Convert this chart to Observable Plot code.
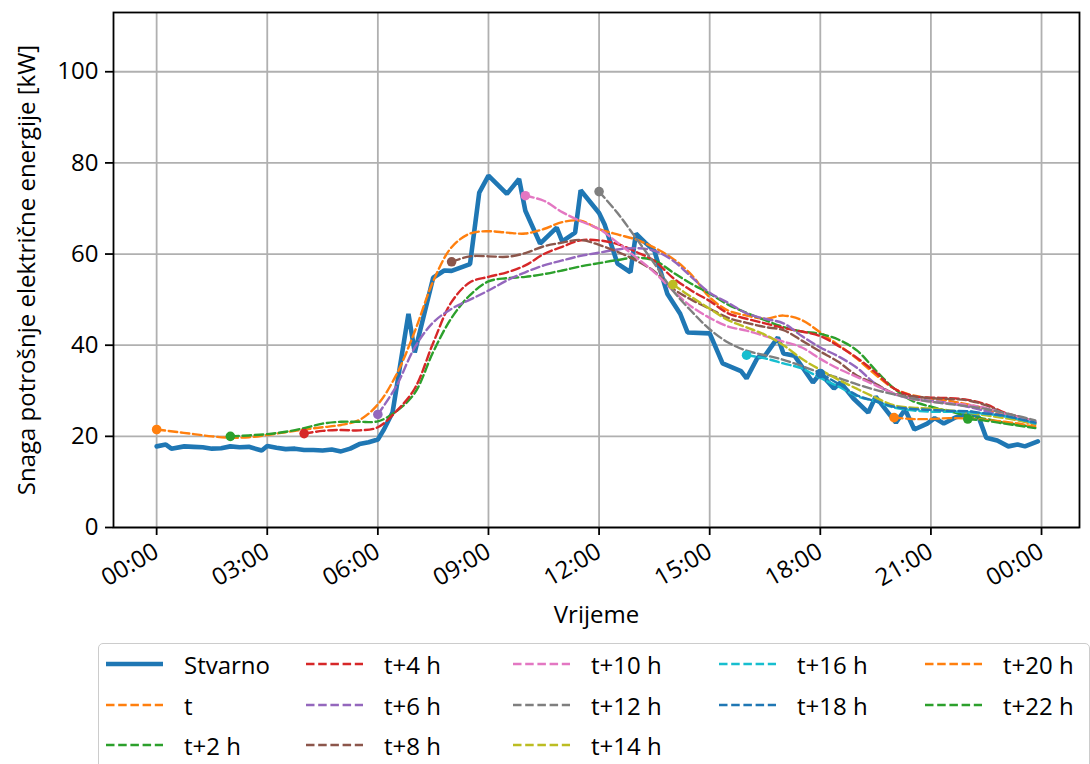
<!DOCTYPE html>
<html><head><meta charset="utf-8">
<script src="https://cdn.jsdelivr.net/npm/d3@7"></script>
<script src="https://cdn.jsdelivr.net/npm/@observablehq/plot@0.6"></script>
<style>
body{margin:0;background:#fff;font-family:"Open Sans",sans-serif;}
#wrap{position:relative;width:1090px;height:764px;overflow:hidden;background:#fff;}
#legend{position:absolute;left:98px;top:643px;width:992px;height:140px;border:1.6px solid #cccccc;border-radius:5px;box-sizing:border-box;}
.item{position:absolute;display:flex;align-items:center;height:30px;font-size:24px;color:#000;white-space:nowrap;}
.item svg{margin-right:21px;}
</style></head><body><div id="wrap"></div><script>
// ---- data ----
const xTicks = [0, 3, 6, 9, 12, 15, 18, 21, 24];
const yTicks = [0, 20, 40, 60, 80, 100];

const actualHours = [0,0.25,0.4,0.75,1,1.25,1.5,1.75,2,2.25,2.5,2.85,3,3.25,3.5,3.75,4,4.25,4.5,4.75,5,5.25,5.5,5.75,6,6.15,6.4,6.83,7,7.5,7.8,8,8.5,8.75,9,9.5,9.83,10,10.4,10.85,11,11.35,11.5,12,12.15,12.5,12.85,13,13.25,13.5,13.85,14.2,14.4,15,15.35,15.85,16,16.3,16.5,16.85,17,17.3,17.8,18,18.37,18.55,18.9,19.3,19.5,20.05,20.3,20.55,20.9,21.1,21.35,21.65,22.1,22.3,22.5,22.8,23.1,23.35,23.55,23.9];
const actualKW = [17.8,18.2,17.3,17.8,17.7,17.6,17.3,17.4,17.8,17.6,17.7,16.9,17.9,17.5,17.2,17.3,17.0,17.0,16.9,17.1,16.7,17.3,18.3,18.7,19.3,21.3,25.3,46.9,38.4,54.8,56.4,56.3,57.8,73.5,77.2,73.2,76.5,69.5,62.3,65.8,62.8,64.7,74,69,66.5,57.9,56,64.5,62.5,60.7,51.3,46.9,42.8,42.6,36,34.3,32.7,37.3,37.7,41.7,38.2,37.7,31.8,33.8,30.5,31.8,28.3,25.2,28.7,23,25.9,21.5,22.8,24,22.8,24.1,25.2,24.1,19.7,19.1,17.8,18.2,17.8,18.9];

const fc_t = [[0,21.5],[0.5,21],[1,20.5],[1.5,20],[2,19.7],[2.5,19.8],[3,20.3],[3.5,20.9],[4,21.5],[4.5,22],[5,22.5],[5.5,23.6],[6,27],[6.5,33.5],[7,43],[7.5,54],[8,61.5],[8.5,64.5],[9,65],[9.5,64.7],[10,64.5],[10.5,65.5],[11,67],[11.5,67.3],[12,65.5],[12.5,64.3],[13,63.2],[13.5,61.4],[14,59],[14.5,55.5],[15,50.5],[15.5,47.6],[16,46.5],[16.5,45.8],[17,46.5],[17.5,45.5],[18,42.8],[18.5,40],[19,37],[19.5,33.5],[20,30.5],[20.5,29],[21,28.3],[21.5,27.8],[22,27],[22.5,26],[23,24.5],[23.5,23.3],[23.83,22.5]];
const fc_t2 = [[2,20],[2.5,20.2],[3,20.5],[3.5,21],[4,21.8],[4.5,22.8],[5,23.2],[5.5,23.2],[6,23.3],[6.5,25.5],[7,29.5],[7.5,38.5],[8,46],[8.5,51],[9,54],[9.5,54.7],[10,55],[10.5,55.6],[11,56.4],[11.5,57.3],[12,58],[12.5,58.7],[13,59.2],[13.5,58.6],[14,56],[14.5,53.5],[15,51.3],[15.5,48.9],[16,47.1],[16.5,45.5],[17,44],[17.5,43],[18,42.5],[18.5,41.2],[19,38.8],[19.5,34.5],[20,30.5],[20.5,27.8],[21,26.5],[21.5,25.5],[22,24.5],[22.5,23.8],[23,23],[23.5,22.4],[23.83,22]];
const fc_t4 = [[4,20.6],[4.5,21.2],[5,21.4],[5.5,21.3],[6,22],[6.5,25.5],[7,30.5],[7.5,40.5],[8,49.5],[8.5,53.8],[9,55],[9.5,56],[10,57.5],[10.5,60],[11,61.6],[11.5,63],[12,63],[12.5,62.2],[13,60.5],[13.5,58.5],[14,54.8],[14.5,52],[15,49.7],[15.5,47],[16,45.8],[16.5,44.8],[17,43.8],[17.5,43],[18,42],[18.5,39.8],[19,37.2],[19.5,34],[20,30.5],[20.5,28.9],[21,28.5],[21.5,28.4],[22,28],[22.5,27],[23,25.2],[23.5,24],[23.83,23]];
const fc_t6 = [[6,24.8],[6.5,31],[7,39.5],[7.5,45],[8,48],[8.5,50],[9,52],[9.5,54.2],[10,56],[10.5,57.5],[11,58.6],[11.5,59.6],[12,60.3],[12.5,61],[13,61.3],[13.5,60.7],[14,58.6],[14.5,55],[15,51.5],[15.5,49.3],[16,47],[16.5,45.8],[17,44.8],[17.5,42],[18,39.5],[18.5,37.5],[19,35],[19.5,31.5],[20,29.3],[20.5,28.3],[21,27.8],[21.5,27.3],[22,26.5],[22.5,25.5],[23,24.4],[23.5,23.6],[23.83,23]];
const fc_t8 = [[8,58.3],[8.5,59.5],[9,59.5],[9.5,59.4],[10,60.2],[10.5,61.7],[11,62.5],[11.5,63.1],[12,62],[12.5,60.5],[13,58.6],[13.5,56.2],[14,52.4],[14.5,50],[15,48],[15.5,46],[16,44.9],[16.5,44],[17,43.3],[17.5,41],[18,38.6],[18.5,36.3],[19,33.3],[19.5,31.5],[20,29.4],[20.5,28.8],[21,28.4],[21.5,28.2],[22,27.9],[22.5,26.8],[23,25],[23.5,24],[23.83,23.3]];
const fc_t10 = [[10,72.8],[10.5,71.7],[11,69.2],[11.5,67.2],[12,65.5],[12.5,62.5],[13,59.3],[13.5,56],[14,52],[14.5,48.5],[15,46],[15.5,44.1],[16,43.2],[16.5,42],[17,40.8],[17.5,39.5],[18,37],[18.5,34.8],[19,33],[19.5,31.2],[20,29.4],[20.5,28.2],[21,27.6],[21.5,27.2],[22,26.9],[22.5,26.2],[23,25],[23.5,24],[23.83,23.3]];
const fc_t12 = [[12,73.7],[12.5,69],[13,63.5],[13.5,57.9],[14,52],[14.5,47.5],[15,43.5],[15.5,40.6],[16,38.8],[16.5,37.8],[17,36.8],[17.5,35.4],[18,34],[18.5,32.8],[19,31.4],[19.5,30.2],[20,29.2],[20.5,28.3],[21,27.6],[21.5,27.1],[22,26.6],[22.5,26],[23,25.1],[23.5,24.2],[23.83,23.5]];
const fc_t14 = [[14,53.3],[14.5,50.6],[15,48],[15.5,45.5],[16,43.9],[16.5,42.3],[17,40],[17.5,37],[18,34.6],[18.5,32.4],[19,30.4],[19.5,28.5],[20,26.8],[20.5,26.3],[21,26.1],[21.5,25.7],[22,25.2],[22.5,24.6],[23,24],[23.5,23.3],[23.83,22.8]];
const fc_t16 = [[16,37.8],[16.5,37.1],[17,36],[17.5,34.9],[18,32.8],[18.5,30.9],[19,28.8],[19.5,27.7],[20,26.3],[20.5,25.7],[21,25.4],[21.5,25.4],[22,25.3],[22.5,24.9],[23,24.4],[23.5,23.5],[23.83,22.8]];
const fc_t18 = [[18,33.8],[18.5,31.5],[19,29],[19.5,27.7],[20,26.5],[20.5,26],[21,25.8],[21.5,25.6],[22,25.5],[22.5,25],[23,24.5],[23.5,23.6],[23.83,23]];
const fc_t20 = [[20,24.1],[20.5,23.8],[21,23.8],[21.5,24],[22,23.9],[22.5,23.6],[23,23.2],[23.5,22.6],[23.83,22]];
const fc_t22 = [[22,23.8],[22.5,23.4],[23,22.8],[23.5,22.2],[23.83,21.8]];

const forecastNames = ["t","t+2 h","t+4 h","t+6 h","t+8 h","t+10 h","t+12 h","t+14 h","t+16 h","t+18 h","t+20 h","t+22 h"];
const forecastData = [fc_t, fc_t2, fc_t4, fc_t6, fc_t8, fc_t10, fc_t12, fc_t14, fc_t16, fc_t18, fc_t20, fc_t22];
const tab10 = ["#1f77b4","#ff7f0e","#2ca02c","#d62728","#9467bd","#8c564b","#e377c2","#7f7f7f","#bcbd22","#17becf"];

// ---- build ----
const actual = actualHours.map((h, i) => ({h, v: actualKW[i]}));
const series = forecastNames.map((name, k) => ({
  name, color: tab10[(k + 1) % 10],
  pts: forecastData[k].map(([h, v]) => ({h, v}))
}));
const FONT = 24;
const DASH = "8.5,3.7";
const fmt = d => String(d % 24).padStart(2, "0") + ":00";

const marks = [
  Plot.gridX(xTicks, {stroke: "#b0b0b0", strokeOpacity: 1, strokeWidth: 1.8}),
  Plot.gridY(yTicks, {stroke: "#b0b0b0", strokeOpacity: 1, strokeWidth: 1.8}),
  Plot.line(actual, {x: "h", y: "v", stroke: tab10[0], strokeWidth: 4.6, strokeLinejoin: "miter"}),
];
for (const s of series) {
  marks.push(Plot.line(s.pts, {x: "h", y: "v", stroke: s.color, strokeWidth: 2.4, strokeDasharray: DASH, curve: "catmull-rom"}));
  marks.push(Plot.dot([s.pts[0]], {x: "h", y: "v", r: 4.8, fill: s.color, stroke: "none"}));
}
marks.push(
  Plot.frame({stroke: "#000", strokeWidth: 1.8}),
  Plot.axisX(xTicks, {tickFormat: fmt, tickSize: 8, tickPadding: 14, tickRotate: -30, fontSize: FONT, strokeWidth: 1.8, label: null}),
  Plot.axisY(yTicks, {tickSize: 8, tickPadding: 7, fontSize: FONT, strokeWidth: 1.8, label: null}),
  Plot.text(["Snaga potrošnje električne energije [kW]"], {frameAnchor: "left", dx: -86, rotate: -90, textAnchor: "middle", fontSize: FONT, fill: "#000"}),
  Plot.text(["Vrijeme"], {frameAnchor: "bottom", dy: 95, textAnchor: "middle", fontSize: FONT, fill: "#000"})
);

const chart = Plot.plot({
  width: 1090, height: 640,
  marginLeft: 113, marginRight: 11, marginTop: 12, marginBottom: 113,
  style: {fontFamily: "Open Sans, sans-serif", fontSize: FONT + "px", color: "#000", background: "#fff"},
  x: {type: "linear", domain: [-1.17, 25.03]},
  y: {domain: [0, 113]},
  marks
});
const wrap = document.getElementById("wrap");
wrap.appendChild(chart);

// ---- legend ----
const legend = document.createElement("div");
legend.id = "legend";
wrap.appendChild(legend);
const entries = [{name: "Stvarno", color: tab10[0], solid: true}, ...series.map(s => ({name: s.name, color: s.color}))];
const colX = [106, 306, 513, 719, 925];
const rowY = [664, 705, 745];
const colOf = [0,0,0,1,1,1,2,2,2,3,3,4,4];
const rowOf = [0,1,2,0,1,2,0,1,2,0,1,0,1];
entries.forEach((e, i) => {
  const div = document.createElement("div");
  div.className = "item";
  div.style.left = colX[colOf[i]] + "px";
  div.style.top = (rowY[rowOf[i]] - 15) + "px";
  const sw = e.solid
    ? `<line x1="0" y1="6" x2="57" y2="6" stroke="${e.color}" stroke-width="4.6"/>`
    : `<line x1="0" y1="6" x2="57" y2="6" stroke="${e.color}" stroke-width="2.4" stroke-dasharray="${DASH}"/>`;
  div.innerHTML = `<svg width="57" height="12">${sw}</svg><span>${e.name}</span>`;
  wrap.appendChild(div);
});
</script></body></html>
